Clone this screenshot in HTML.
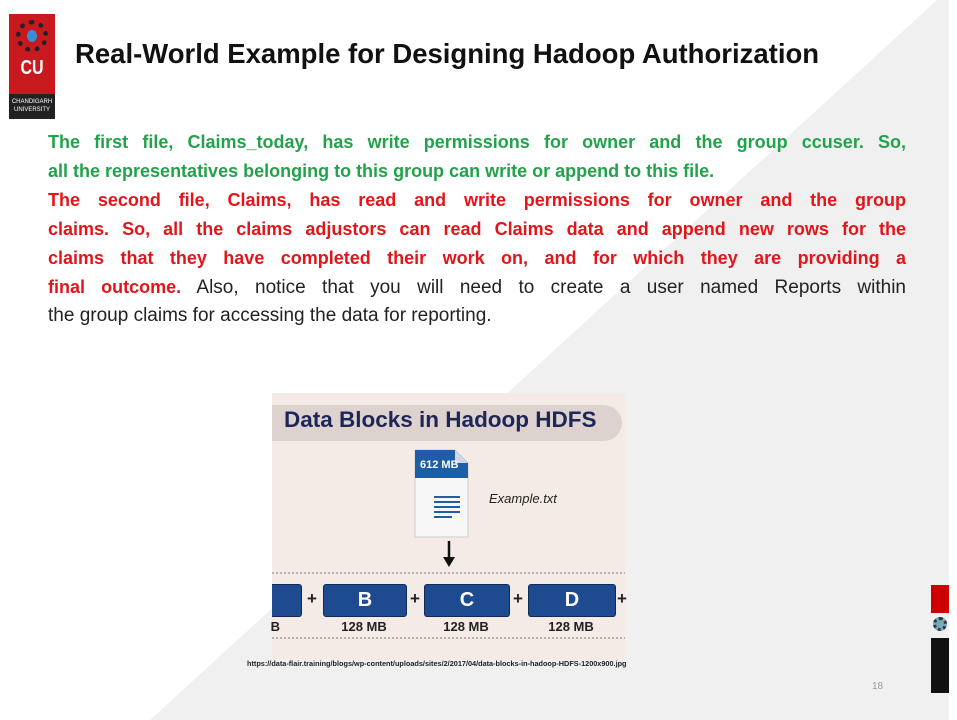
<!DOCTYPE html>
<html><head><style>
body{margin:0;width:957px;height:720px;position:relative;overflow:hidden;background:#fff;font-family:"Liberation Sans",sans-serif}
.abs{position:absolute}
.ln{position:absolute;left:48px;width:858px;white-space:nowrap;font-size:18px;font-weight:bold;line-height:22px}
.j{text-align:justify;text-align-last:justify}
.g{color:#22a34a}.r{color:#e3151b}
.blk{position:absolute;top:584px;height:31px;background:#1e4b8f;border:1px solid #0d2c5a;border-radius:3px;color:#fff;font-size:20px;text-align:center;line-height:31px;font-weight:bold}
.lbl{position:absolute;top:619px;font-size:13px;font-weight:bold;color:#222;width:90px;text-align:center}
.plus{position:absolute;top:589px;font-size:17px;font-weight:bold;color:#222}
</style></head><body>
<svg class="abs" style="left:0;top:0" width="957" height="720"><polygon points="937,0 949,0 949,720 150,720" fill="#f0f0f0"/></svg>
<div class="abs" style="left:9px;top:14px;width:46px;height:105px;background:#c8191f"></div>
<div class="abs" style="left:16px;top:20px;width:32px;height:32px;border-radius:50%;border:5px dotted #222;box-sizing:border-box"></div>
<div class="abs" style="left:27px;top:30px;width:10px;height:12px;border-radius:50%;background:#3a8fd8"></div>
<div class="abs" style="left:9px;top:57px;width:46px;text-align:center;color:#fff;font-weight:bold;font-size:20px;transform:scaleX(.8)">CU</div>
<div class="abs" style="left:9px;top:94px;width:46px;height:25px;background:#222;color:#fff;font-size:6px;text-align:center;line-height:8px;padding-top:4px;box-sizing:border-box">CHANDIGARH<br>UNIVERSITY</div>
<div class="abs" style="left:75px;top:38px;font-size:27.5px;font-weight:bold;color:#111;white-space:nowrap">Real-World Example for Designing Hadoop Authorization</div>
<div class="ln j g" style="top:131px">The first file, Claims_today, has write permissions for owner and the group ccuser. So,</div>
<div class="ln g" style="top:160px">all the representatives belonging to this group can write or append to this file.</div>
<div class="ln j r" style="top:189px">The second file, Claims, has read and write permissions for owner and the group</div>
<div class="ln j r" style="top:218px">claims. So, all the claims adjustors can read Claims data and append new rows for the</div>
<div class="ln j r" style="top:247px">claims that they have completed their work on, and for which they are providing a</div>
<div class="ln j" style="top:276px;font-weight:normal;color:#222;font-size:19px"><b class="r" style="font-size:18px">final outcome.</b> Also, notice that you will need to create a user named Reports within</div>
<div class="ln" style="top:305px;font-weight:normal;color:#222;font-size:19px">the group claims for accessing the data for reporting.</div>
<div class="abs" style="left:272px;top:393px;width:353px;height:267px;background:#f5ebe6;overflow:hidden">
<div class="abs" style="left:0;top:12px;width:350px;height:36px;background:#ddd2ce;border-radius:0 18px 18px 0"></div>
<div class="abs" style="left:12px;top:14px;font-size:22.5px;font-weight:bold;color:#1c2658;white-space:nowrap">Data Blocks in Hadoop HDFS</div>
</div>
<svg class="abs" style="left:272px;top:393px" width="353" height="267">
<path d="M143 57 H183 L196 70 V144 H143 Z" fill="#f7f7f7" stroke="#ccc"/>
<path d="M143 57 H183 L196 70 V85 H143 Z" fill="#1e5ea6"/>
<path d="M183 57 V70 H196" fill="#cfd8e6"/>
<g stroke="#1e5ea6" stroke-width="2"><line x1="162" y1="104" x2="188" y2="104"/><line x1="162" y1="109" x2="188" y2="109"/><line x1="162" y1="114" x2="188" y2="114"/><line x1="162" y1="119" x2="188" y2="119"/><line x1="162" y1="124" x2="180" y2="124"/></g>
<line x1="177" y1="148" x2="177" y2="166" stroke="#111" stroke-width="2.5"/><polygon points="171,164 183,164 177,174" fill="#111"/>
<line x1="0" y1="180" x2="353" y2="180" stroke="#777" stroke-dasharray="2,2"/>
<line x1="0" y1="245" x2="353" y2="245" stroke="#777" stroke-dasharray="2,2"/>
</svg>
<div class="abs" style="left:420px;top:459px;color:#fff;font-size:11px;font-weight:bold">612 MB</div>
<div class="abs" style="left:489px;top:491px;font-size:13px;font-style:italic;color:#222">Example.txt</div>
<div class="blk" style="left:272px;width:29px;border-left:none;border-radius:0 3px 3px 0"></div>
<div class="blk" style="left:323px;width:82px">B</div>
<div class="blk" style="left:424px;width:84px">C</div>
<div class="blk" style="left:528px;width:86px">D</div>
<div class="plus" style="left:307px">+</div><div class="plus" style="left:410px">+</div><div class="plus" style="left:513px">+</div><div class="plus" style="left:617px">+</div>
<div class="lbl" style="left:240px;text-align:right;width:40px;overflow:hidden">B</div>
<div class="lbl" style="left:319px">128 MB</div><div class="lbl" style="left:421px">128 MB</div><div class="lbl" style="left:526px">128 MB</div>
<div class="abs" style="left:247px;top:659px;font-size:7.3px;font-weight:bold;color:#222;white-space:nowrap">https://data-flair.training/blogs/wp-content/uploads/sites/2/2017/04/data-blocks-in-hadoop-HDFS-1200x900.jpg</div>
<div class="abs" style="left:872px;top:681px;font-size:10px;color:#999">18</div>
<div class="abs" style="left:931px;top:585px;width:18px;height:28px;background:#c00"></div>
<div class="abs" style="left:933px;top:617px;width:14px;height:14px;border-radius:50%;border:3px dotted #333;box-sizing:border-box;background:#7ab"></div>
<div class="abs" style="left:931px;top:638px;width:18px;height:55px;background:#111"></div>
</body></html>
